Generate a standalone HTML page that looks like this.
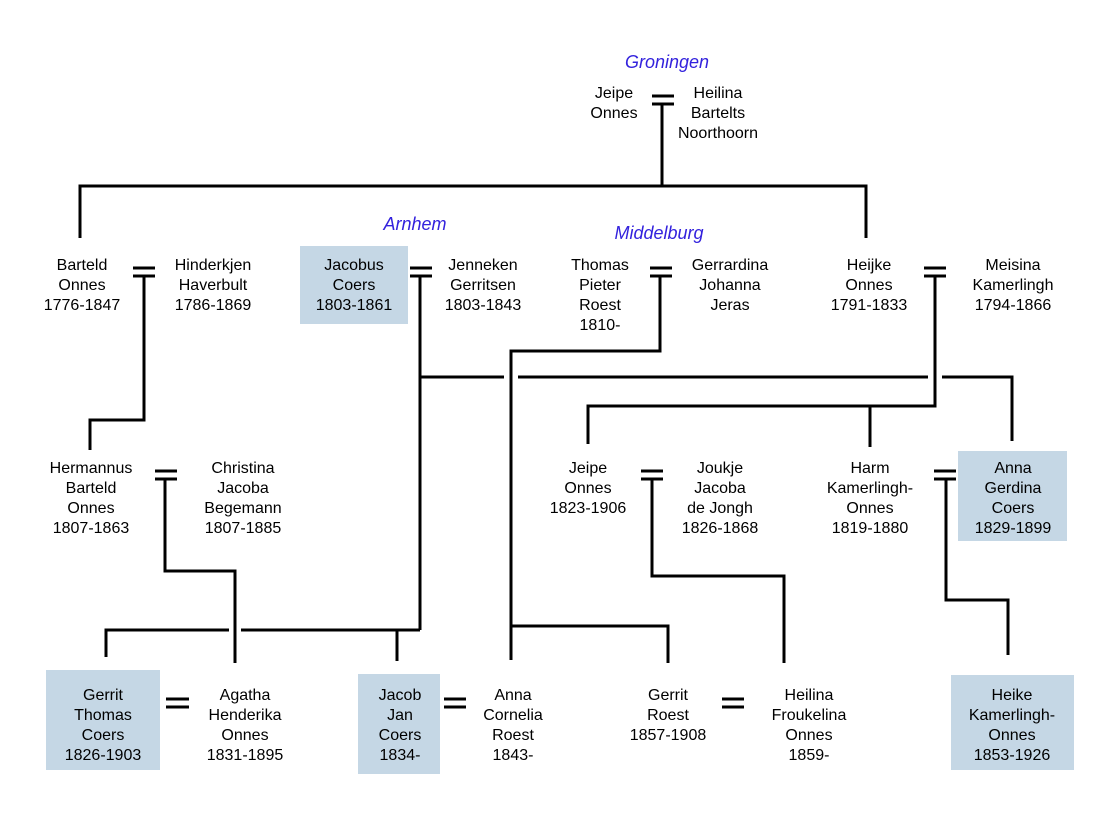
<!DOCTYPE html>
<html><head><meta charset="utf-8"><style>
html,body{margin:0;padding:0;background:#fff;}
svg{display:block;}
text{font-family:"Liberation Sans",Arial,sans-serif;font-size:16px;fill:#000;text-anchor:middle;}
.city{fill:#3322dd;font-style:italic;font-size:18px;}
</style></head><body>
<svg width="1115" height="837" viewBox="0 0 1115 837" xmlns="http://www.w3.org/2000/svg">
<g fill="#c5d7e5">
<rect x="300" y="246" width="108" height="78"/>
<rect x="958" y="451" width="109" height="90"/>
<rect x="46" y="670" width="114" height="100"/>
<rect x="358" y="674" width="82" height="100"/>
<rect x="951" y="675" width="123" height="95"/>
</g>
<g stroke="#000" stroke-width="3" fill="none">
<!-- marriage bars -->
<path d="M652 96h22M652 104h22 M133 268h22M133 276h22 M410 268h22M410 276h22 M650 268h22M650 276h22 M924 268h22M924 276h22 M155 471h22M155 479h22 M641 471h22M641 479h22 M934 471h22M934 479h22 M166 699h23M166 707h23 M444 699h22M444 707h22 M722 699h22M722 707h22"/>
<!-- connectors -->
<path d="M662 104V186 M80 238V186H866V238"/>
<path d="M144 276V420H90V450"/>
<path d="M420 276V630"/>
<path d="M660 276V351H511V660"/>
<path d="M935 276V406H588V444 M870 406V447"/>
<path d="M420 377H504 M518 377H928 M942 377H1012V441"/>
<path d="M165 479V571H235V663"/>
<path d="M106 657V630H229 M241 630H420 M397 630V661"/>
<path d="M652 479V576H784V663"/>
<path d="M946 479V600H1008V655"/>
<path d="M511 626H668V663"/>
</g>
<text class="city" x="667" y="68">Groningen</text>
<text class="city" x="415" y="230">Arnhem</text>
<text class="city" x="659" y="239">Middelburg</text>

<text x="614" y="98">Jeipe</text><text x="614" y="118">Onnes</text>
<text x="718" y="98">Heilina</text><text x="718" y="118">Bartelts</text><text x="718" y="138">Noorthoorn</text>

<text x="82" y="270">Barteld</text><text x="82" y="290">Onnes</text><text x="82" y="310">1776-1847</text>
<text x="213" y="270">Hinderkjen</text><text x="213" y="290">Haverbult</text><text x="213" y="310">1786-1869</text>
<text x="354" y="270">Jacobus</text><text x="354" y="290">Coers</text><text x="354" y="310">1803-1861</text>
<text x="483" y="270">Jenneken</text><text x="483" y="290">Gerritsen</text><text x="483" y="310">1803-1843</text>
<text x="600" y="270">Thomas</text><text x="600" y="290">Pieter</text><text x="600" y="310">Roest</text><text x="600" y="330">1810-</text>
<text x="730" y="270">Gerrardina</text><text x="730" y="290">Johanna</text><text x="730" y="310">Jeras</text>
<text x="869" y="270">Heijke</text><text x="869" y="290">Onnes</text><text x="869" y="310">1791-1833</text>
<text x="1013" y="270">Meisina</text><text x="1013" y="290">Kamerlingh</text><text x="1013" y="310">1794-1866</text>

<text x="91" y="473">Hermannus</text><text x="91" y="493">Barteld</text><text x="91" y="513">Onnes</text><text x="91" y="533">1807-1863</text>
<text x="243" y="473">Christina</text><text x="243" y="493">Jacoba</text><text x="243" y="513">Begemann</text><text x="243" y="533">1807-1885</text>
<text x="588" y="473">Jeipe</text><text x="588" y="493">Onnes</text><text x="588" y="513">1823-1906</text>
<text x="720" y="473">Joukje</text><text x="720" y="493">Jacoba</text><text x="720" y="513">de Jongh</text><text x="720" y="533">1826-1868</text>
<text x="870" y="473">Harm</text><text x="870" y="493">Kamerlingh-</text><text x="870" y="513">Onnes</text><text x="870" y="533">1819-1880</text>
<text x="1013" y="473">Anna</text><text x="1013" y="493">Gerdina</text><text x="1013" y="513">Coers</text><text x="1013" y="533">1829-1899</text>

<text x="103" y="700">Gerrit</text><text x="103" y="720">Thomas</text><text x="103" y="740">Coers</text><text x="103" y="760">1826-1903</text>
<text x="245" y="700">Agatha</text><text x="245" y="720">Henderika</text><text x="245" y="740">Onnes</text><text x="245" y="760">1831-1895</text>
<text x="400" y="700">Jacob</text><text x="400" y="720">Jan</text><text x="400" y="740">Coers</text><text x="400" y="760">1834-</text>
<text x="513" y="700">Anna</text><text x="513" y="720">Cornelia</text><text x="513" y="740">Roest</text><text x="513" y="760">1843-</text>
<text x="668" y="700">Gerrit</text><text x="668" y="720">Roest</text><text x="668" y="740">1857-1908</text>
<text x="809" y="700">Heilina</text><text x="809" y="720">Froukelina</text><text x="809" y="740">Onnes</text><text x="809" y="760">1859-</text>
<text x="1012" y="700">Heike</text><text x="1012" y="720">Kamerlingh-</text><text x="1012" y="740">Onnes</text><text x="1012" y="760">1853-1926</text>
</svg>
</body></html>
